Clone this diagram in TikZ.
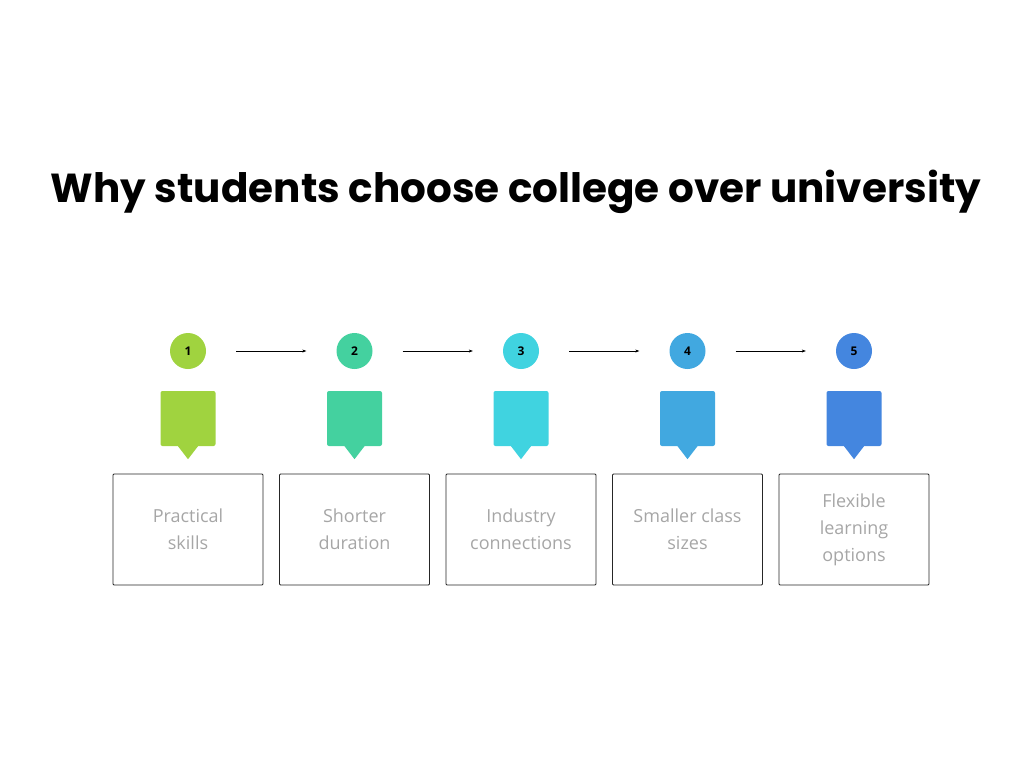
\documentclass[tikz,border=0pt]{standalone}
\usepackage{fontspec}
\setmainfont{Open Sans}
\newfontfamily\titlefont{Poppins}
\usetikzlibrary{arrows.meta}
\definecolor{cA}{HTML}{A0D33F}
\definecolor{cB}{HTML}{44D19F}
\definecolor{cC}{HTML}{40D3E0}
\definecolor{cD}{HTML}{41A8E0}
\definecolor{cE}{HTML}{4486DF}
\definecolor{txtgray}{HTML}{A6A6A6}
\tikzset{
    numdot/.style={circle,minimum size=36pt,inner sep=0pt,font=\fontsize{12}{14}\selectfont\bfseries},
    tagbox/.style={rectangle,rounded corners=2pt,minimum size=55pt,inner sep=0pt},
    reasonbox/.style={draw=black!85,thick,rounded corners=1pt,minimum width=150pt,minimum height=111pt,
        align=center,text=txtgray,font=\fontsize{18}{27}\selectfont},
}
\begin{document}
\begin{tikzpicture}[x=1pt,y=-1pt]
\useasboundingbox (0,0) rectangle (1024,768);

\node (title) at (516,192) {\titlefont\bfseries\fontsize{40.5}{46}\selectfont Why students choose college over university};

\foreach \i/\col/\txt [count=\n] in {1/cA/{Practical\\skills},2/cB/{Shorter\\duration},3/cC/{Industry\\connections},4/cD/{Smaller class\\sizes},5/cE/{Flexible\\learning\\options}} {
    \node[numdot,fill=\col] (num\i) at ({188+166.5*(\i-1)},351) {\i};
    \node[tagbox,fill=\col] (tag\i) at ({188+166.5*(\i-1)},418.5) {};
    \fill[\col] ([xshift=-10pt]tag\i.south) -- ([yshift=-13pt]tag\i.south) -- ([xshift=10pt]tag\i.south) -- cycle;
    \node[reasonbox] (box\i) at ({188+166.5*(\i-1)},529.5) {\txt};
}

\foreach \a/\b in {1/2,2/3,3/4,4/5}
    \draw[-{Stealth[length=4pt,width=3pt]}] ([xshift=30pt]num\a.east) -- ([xshift=-30pt]num\b.west);
\end{tikzpicture}
\end{document}
